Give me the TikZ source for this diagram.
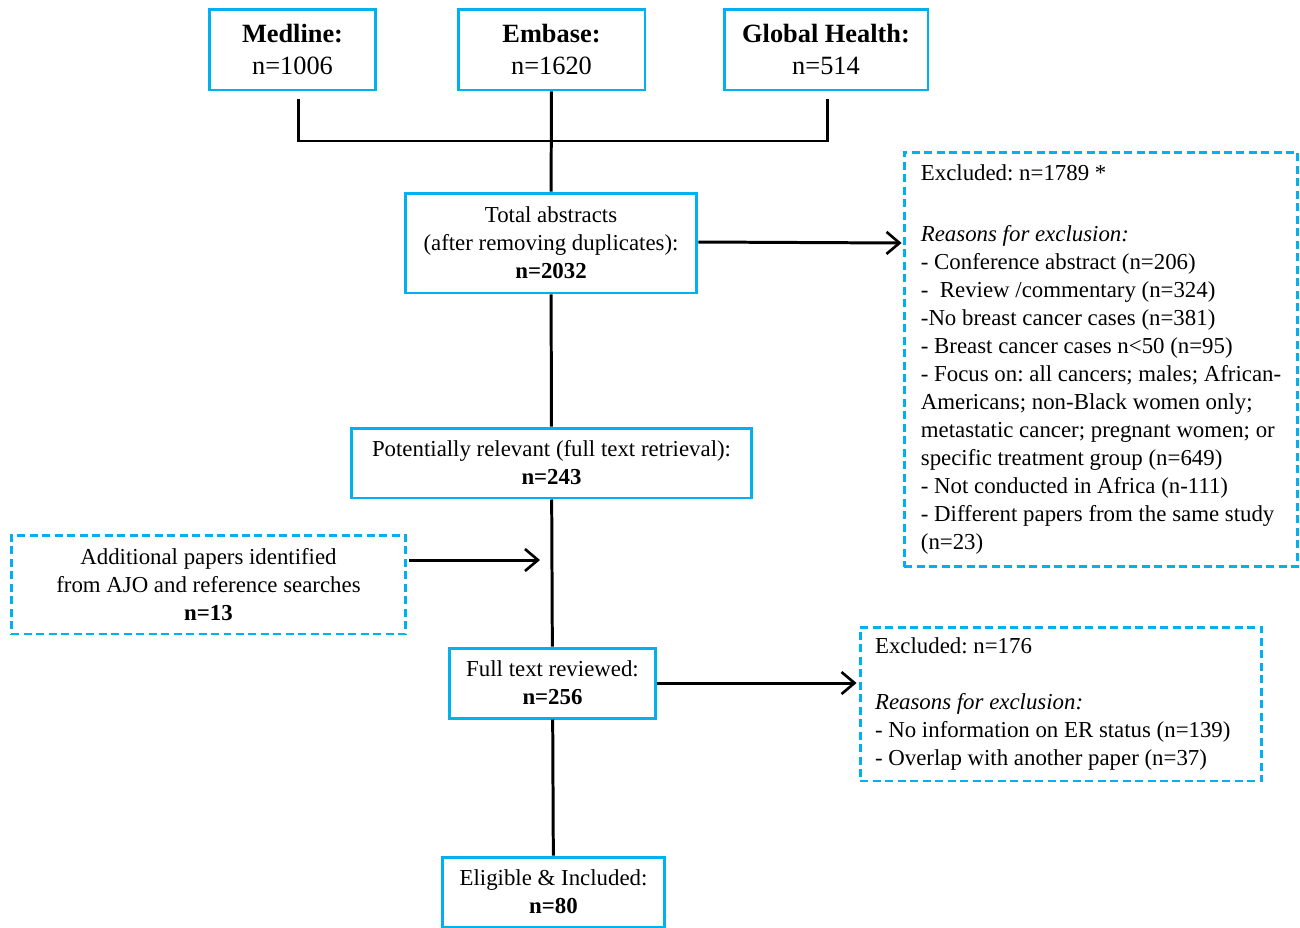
\documentclass[tikz,border=0pt]{standalone}
\usepackage{fontspec}
\setmainfont{Liberation Serif}
\frenchspacing
\usepackage{tikz}
\usetikzlibrary{arrows.meta,calc}
\usepackage{xcolor}
\definecolor{bleu}{RGB}{0,176,240}
\tikzstyle{boite}=[draw=bleu, line width=1.7pt, align=center, inner sep=0pt,
    font={\fontsize{13}{15.9}\selectfont}]
\tikzstyle{source}=[boite, font={\fontsize{15}{18.2}\selectfont}]
\tikzstyle{pointille}=[boite, dash pattern=on 0.16cm off 0.09cm, align=flush left]
\tikzstyle{lien}=[-, line width=1.7pt, black]
\tikzstyle{fleche}=[lien, -{Straight Barb[length=0.26cm, width=0.44cm, line width=1.5pt]}]

\begin{document}
\begin{tikzpicture}[x=0.02cm, y=-0.02cm]
\useasboundingbox (0,0) rectangle (1300,927);

% bases
\node[source, minimum width=3.34cm, minimum height=1.62cm] (medline) at (292.5,49.5) {\textbf{Medline:}\\n=1006};
\node[source, minimum width=3.74cm, minimum height=1.62cm] (embase) at (551.5,49.5) {\textbf{Embase:}\\n=1620};
\node[source, minimum width=4.08cm, minimum height=1.62cm] (globalh) at (826,49.5) {\textbf{Global Health:}\\n=514};
\coordinate (jonction) at (551,141);

% etapes
\node[boite, minimum width=5.84cm, minimum height=2cm] (total) at (551,243) {Total abstracts\\(after removing duplicates):\\\textbf{n=2032}};
\node[boite, minimum width=8.02cm, minimum height=1.4cm] (potentiel) at (551.5,463) {Potentially relevant (full text retrieval):\\\textbf{n=243}};
\node[boite, minimum width=4.14cm, minimum height=1.4cm] (complet) at (552.5,683) {Full text reviewed:\\\textbf{n=256}};
\node[boite, minimum width=4.46cm, minimum height=1.4cm] (inclus) at (553.5,892) {Eligible \& Included:\\\textbf{n=80}};

% ajouts
\node[boite, dash pattern=on 0.16cm off 0.09cm, minimum width=7.9cm, minimum height=1.98cm] (ajout) at (208.5,584.5) {Additional papers identified\\from AJO and reference searches\\\textbf{n=13}};
\coordinate (arrivee) at (540,560);

% exclusions
\node[pointille, minimum width=7.88cm, minimum height=8.3cm] (exclu) at (1101,359.5) {Excluded: n=1789 *\\[18.7pt]
\textit{Reasons for exclusion:}\\
- Conference abstract (n=206)\\
-\ \ Review /commentary (n=324)\\
-No breast cancer cases (n=381)\\
- Breast cancer cases n<50 (n=95)\\
- Focus on: all cancers; males; African-\\
Americans; non-Black women only;\\
metastatic cancer; pregnant women; or\\
specific treatment group (n=649)\\
- Not conducted in Africa (n-111)\\
- Different papers from the same study\\
(n=23)};
\node[pointille, text width=7.44cm, inner xsep=0.3cm, minimum height=3.08cm] (exclubis) at (1061,704) {Excluded: n=176\\[15.9pt]
\textit{Reasons for exclusion:}\\
- No information on ER status (n=139)\\
- Overlap with another paper (n=37)};

% liens
\draw[lien] ([xshift=0.12cm, yshift=-0.16cm]medline.south) |- (jonction) -| ([xshift=0.02cm, yshift=-0.16cm]globalh.south);
\draw[lien] (embase) -- (total);
\draw[lien] (total) -- (potentiel);
\draw[lien] (potentiel) -- (complet);
\draw[lien] (complet) -- (inclus);
\draw[fleche] ([xshift=0.04cm]ajout.east |- arrivee) -- (arrivee);
\draw[fleche] ([yshift=0.02cm]total.east) -- ([xshift=-0.02cm]total.east -| exclu.west);
\draw[fleche] (complet.east) -- ([xshift=-0.04cm]complet.east -| exclubis.west);

\end{tikzpicture}
\end{document}
